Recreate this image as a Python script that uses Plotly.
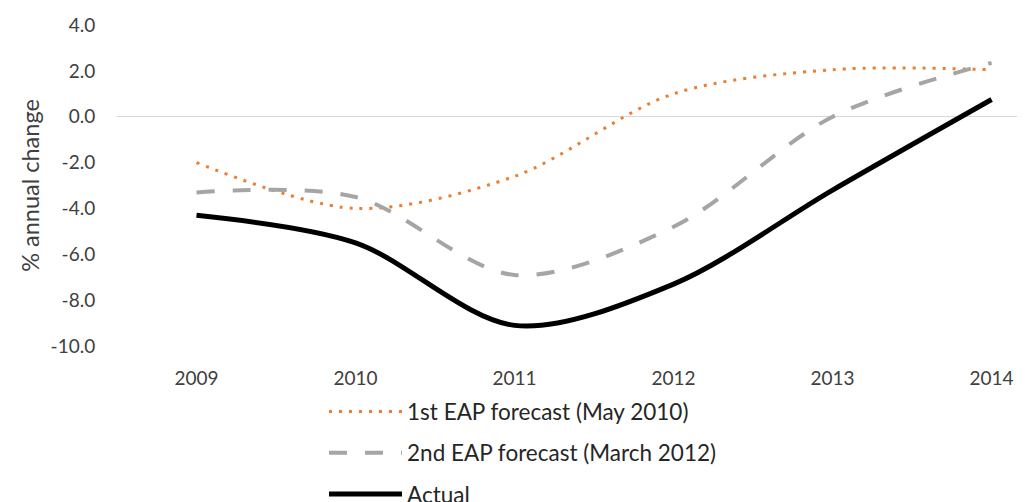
import plotly.graph_objects as go

# Data
years = ["2009", "2010", "2011", "2012", "2013", "2014"]
first_forecast = [-2.0, -4.0, -2.6, 1.0, 2.05, 2.05]
second_forecast = [-3.3, -3.5, -6.9, -4.8, 0.0, 2.35]
actual = [-4.3, -5.5, -9.1, -7.3, -3.2, 0.75]
y_ticks = [-10, -8, -6, -4, -2, 0, 2, 4]
y_tick_labels = ["-10.0", "-8.0", "-6.0", "-4.0", "-2.0", "0.0", "2.0", "4.0"]

fig = go.Figure()

fig.add_trace(go.Scatter(
    x=years, y=first_forecast, mode="lines", name="1st EAP forecast (May 2010)",
    line=dict(color="#ed7d31", width=3, dash="3px,7px", shape="spline", smoothing=0.9),
    legendgroup="a",
))
fig.add_trace(go.Scatter(
    x=years, y=second_forecast, mode="lines", name="2nd EAP forecast (March 2012)",
    line=dict(color="#a5a5a5", width=4, dash="18px,18px", shape="spline", smoothing=0.9),
    legendgroup="b",
))
fig.add_trace(go.Scatter(
    x=years, y=actual, mode="lines", name="Actual",
    line=dict(color="#000000", width=5, shape="spline", smoothing=0.9),
    legendgroup="c",
))

# the page body adds an 8px offset, so the figure is 8px smaller than the window
fig.update_layout(
    width=1017, height=494,
    margin=dict(l=109, r=0, t=17, b=156, autoexpand=False),
    plot_bgcolor="white", paper_bgcolor="white",
    font=dict(family="Lato, Open Sans, sans-serif", size=19, color="#404040"),
    showlegend=True,
    legend=dict(
        x=0.228, y=-0.138, xanchor="left", yanchor="top",
        traceorder="grouped", tracegroupgap=9,
        font=dict(size=22.5, color="#262626"),
        itemwidth=73,
    ),
)

fig.update_xaxes(
    type="category", range=[-0.5, 5.21],
    showgrid=False, showline=False, zeroline=False,
    ticks="outside", ticklen=15, tickcolor="rgba(0,0,0,0)",
)
fig.update_yaxes(
    range=[-10, 4], tickvals=y_ticks, ticktext=y_tick_labels,
    showgrid=False, showline=False,
    zeroline=True, zerolinecolor="#d9d9d9", zerolinewidth=1,
    title=dict(text="% annual change", font=dict(size=23.5, color="#404040"), standoff=4),
    ticks="outside", ticklen=17, tickcolor="rgba(0,0,0,0)",
)

fig.write_html("out.html")
